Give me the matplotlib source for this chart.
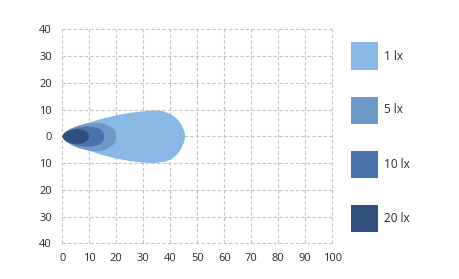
import matplotlib
matplotlib.use("Agg")
import matplotlib.pyplot as plt
from matplotlib.patches import Rectangle

plt.rcParams['font.family'] = ['Open Sans', 'DejaVu Sans']

# Isolux contours (distance in m, lateral in m)
labels = ["1 lx", "5 lx", "10 lx", "20 lx"]
colors = ["#8ab8e5", "#6d99c9", "#4b73ab", "#2f507d"]

lx1_x = [0, 1, 2.5, 5, 10, 15, 20, 25, 30, 34, 37, 40, 42.5, 44.3, 45.3, 45.5,
         45.2, 44, 42.5, 40.5, 38, 34, 30, 25, 20, 15, 10, 5, 2.5, 1]
lx1_y = [0.2, 1.6, 2.6, 3.7, 5.2, 6.7, 7.9, 8.8, 9.4, 9.7, 9.5, 8.4, 6.6, 4.1, 1.6, 0,
         -2.0, -4.6, -6.8, -8.5, -9.5, -10.0, -9.8, -9.2, -8.3, -7.0, -5.4, -3.6, -2.4, -1.3]

lx5_x = [0, 1, 3, 6, 10, 13, 16, 18.5, 19.7, 20, 19.7, 18.5, 16, 13, 10, 6, 3, 1]
lx5_y = [0, 1.4, 2.8, 4.0, 4.9, 5.1, 4.6, 3.3, 1.7, 0, -1.8, -3.6, -5.0, -5.6, -5.4, -4.4, -3.0, -1.5]

lx10_x = [0, 1, 3, 6, 9, 12, 14, 15.2, 15.5, 15.2, 14, 12, 9, 6, 3, 1]
lx10_y = [0, 1.3, 2.4, 3.3, 3.7, 3.5, 2.7, 1.5, 0, -1.6, -2.9, -3.7, -3.9, -3.5, -2.6, -1.4]

lx20_x = [0, 0.5, 1.5, 3, 5, 7, 8.5, 9.5, 10, 9.5, 8.5, 7, 5, 3, 1.5, 0.5]
lx20_y = [0, 1.0, 1.8, 2.4, 2.7, 2.6, 2.1, 1.3, 0, -1.3, -2.2, -2.7, -2.8, -2.5, -1.9, -1.1]

contours = [(lx1_x, lx1_y), (lx5_x, lx5_y), (lx10_x, lx10_y), (lx20_x, lx20_y)]

x_ticks = [0, 10, 20, 30, 40, 50, 60, 70, 80, 90, 100]
y_ticks = [-40, -30, -20, -10, 0, 10, 20, 30, 40]
y_tick_labels = ["40", "30", "20", "10", "0", "10", "20", "30", "40"]

W, H = 460, 279
fig = plt.figure(figsize=(W / 100, H / 100), dpi=100)
ax = fig.add_axes([62.3 / W, (H - 243.3) / H, 270 / W, 213.8 / H])

for (cx, cy), c in zip(contours, colors):
    ax.fill(cx, cy, color=c, lw=0, zorder=2)

ax.set_xlim(0, 100)
ax.set_ylim(-40, 40)
ax.set_xticks(x_ticks)
ax.set_yticks(y_ticks)
ax.set_yticklabels(y_tick_labels)
ax.tick_params(length=0, labelsize=8, colors="#2a2a2a", pad=7)
ax.tick_params(axis='y', pad=7.5)
for s in ax.spines.values():
    s.set_visible(False)
for v in x_ticks:
    ax.axvline(v, color="#c4c4c4", lw=0.8, ls=(0, (3, 2)), zorder=1, clip_on=False)
for v in y_ticks:
    ax.axhline(v, color="#c4c4c4", lw=0.8, ls=(0, (3, 2)), zorder=1, clip_on=False)

# legend
sq_left, sq_w = 351, 27
sq_tops = [42.5, 96.5, 150.5, 204.5]
for lab, c, top in zip(labels, colors, sq_tops):
    fig.add_artist(Rectangle((sq_left / W, (H - top - sq_w) / H), sq_w / W, sq_w / H,
                             transform=fig.transFigure, color=c, lw=0))
    fig.text(384 / W, (H - top - sq_w / 2) / H, lab, fontsize=8.5, color="#2a2a2a",
             va="center", ha="left")

fig.savefig("out.png", dpi=100)
